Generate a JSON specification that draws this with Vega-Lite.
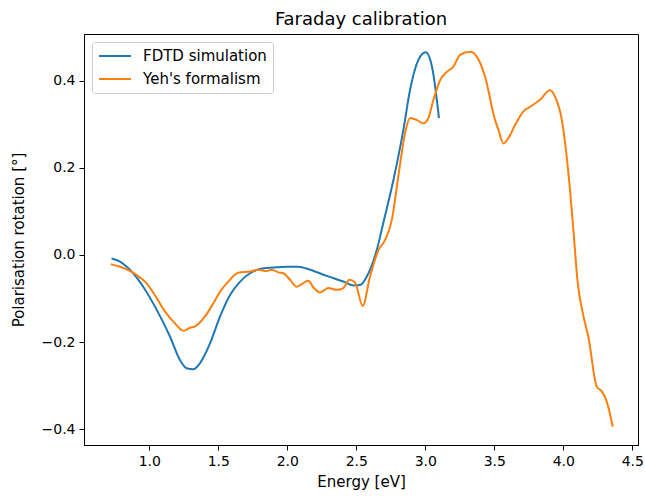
{
  "$schema": "https://vega.github.io/schema/vega-lite/v6.json",
  "autosize": "none",
  "width": 554,
  "height": 411,
  "padding": {"left": 84, "top": 34, "right": 7, "bottom": 55},
  "background": "white",
  "config": {
    "font": "DejaVu Sans",
    "view": {"stroke": "black", "strokeWidth": 1},
    "axis": {"grid": false, "domainColor": "black", "tickColor": "black", "tickSize": 5, "labelColor": "black", "titleColor": "black", "labelFontSize": 14, "titleFontSize": 15, "titleFontWeight": "normal", "labelPadding": 4, "labelFont": "DejaVu Sans", "titleFont": "DejaVu Sans"}
  },
  "title": {"text": "Faraday calibration", "fontSize": 18, "fontWeight": "normal", "font": "DejaVu Sans", "anchor": "middle", "offset": 5, "color": "black"},
  "data": {"values": [
    {"E": 0.727, "v": -0.008, "s": "FDTD simulation"},
    {"E": 0.788, "v": -0.015, "s": "FDTD simulation"},
    {"E": 0.860, "v": -0.034, "s": "FDTD simulation"},
    {"E": 0.956, "v": -0.073, "s": "FDTD simulation"},
    {"E": 1.054, "v": -0.126, "s": "FDTD simulation"},
    {"E": 1.150, "v": -0.187, "s": "FDTD simulation"},
    {"E": 1.222, "v": -0.241, "s": "FDTD simulation"},
    {"E": 1.271, "v": -0.260, "s": "FDTD simulation"},
    {"E": 1.319, "v": -0.262, "s": "FDTD simulation"},
    {"E": 1.368, "v": -0.248, "s": "FDTD simulation"},
    {"E": 1.440, "v": -0.203, "s": "FDTD simulation"},
    {"E": 1.513, "v": -0.141, "s": "FDTD simulation"},
    {"E": 1.585, "v": -0.092, "s": "FDTD simulation"},
    {"E": 1.658, "v": -0.061, "s": "FDTD simulation"},
    {"E": 1.730, "v": -0.042, "s": "FDTD simulation"},
    {"E": 1.802, "v": -0.032, "s": "FDTD simulation"},
    {"E": 1.899, "v": -0.029, "s": "FDTD simulation"},
    {"E": 1.996, "v": -0.027, "s": "FDTD simulation"},
    {"E": 2.079, "v": -0.027, "s": "FDTD simulation"},
    {"E": 2.165, "v": -0.034, "s": "FDTD simulation"},
    {"E": 2.286, "v": -0.048, "s": "FDTD simulation"},
    {"E": 2.406, "v": -0.061, "s": "FDTD simulation"},
    {"E": 2.478, "v": -0.070, "s": "FDTD simulation"},
    {"E": 2.527, "v": -0.069, "s": "FDTD simulation"},
    {"E": 2.575, "v": -0.050, "s": "FDTD simulation"},
    {"E": 2.648, "v": 0.011, "s": "FDTD simulation"},
    {"E": 2.695, "v": 0.073, "s": "FDTD simulation"},
    {"E": 2.769, "v": 0.172, "s": "FDTD simulation"},
    {"E": 2.841, "v": 0.287, "s": "FDTD simulation"},
    {"E": 2.889, "v": 0.378, "s": "FDTD simulation"},
    {"E": 2.949, "v": 0.447, "s": "FDTD simulation"},
    {"E": 3.003, "v": 0.465, "s": "FDTD simulation"},
    {"E": 3.051, "v": 0.428, "s": "FDTD simulation"},
    {"E": 3.099, "v": 0.314, "s": "FDTD simulation"},
    {"E": 0.720, "v": -0.021, "s": "Yeh's formalism"},
    {"E": 0.788, "v": -0.027, "s": "Yeh's formalism"},
    {"E": 0.909, "v": -0.046, "s": "Yeh's formalism"},
    {"E": 0.981, "v": -0.065, "s": "Yeh's formalism"},
    {"E": 1.054, "v": -0.099, "s": "Yeh's formalism"},
    {"E": 1.114, "v": -0.130, "s": "Yeh's formalism"},
    {"E": 1.186, "v": -0.157, "s": "Yeh's formalism"},
    {"E": 1.247, "v": -0.174, "s": "Yeh's formalism"},
    {"E": 1.296, "v": -0.167, "s": "Yeh's formalism"},
    {"E": 1.331, "v": -0.164, "s": "Yeh's formalism"},
    {"E": 1.404, "v": -0.141, "s": "Yeh's formalism"},
    {"E": 1.464, "v": -0.111, "s": "Yeh's formalism"},
    {"E": 1.513, "v": -0.084, "s": "Yeh's formalism"},
    {"E": 1.572, "v": -0.061, "s": "Yeh's formalism"},
    {"E": 1.645, "v": -0.041, "s": "Yeh's formalism"},
    {"E": 1.730, "v": -0.038, "s": "Yeh's formalism"},
    {"E": 1.790, "v": -0.034, "s": "Yeh's formalism"},
    {"E": 1.851, "v": -0.037, "s": "Yeh's formalism"},
    {"E": 1.887, "v": -0.034, "s": "Yeh's formalism"},
    {"E": 1.935, "v": -0.040, "s": "Yeh's formalism"},
    {"E": 1.971, "v": -0.042, "s": "Yeh's formalism"},
    {"E": 2.020, "v": -0.057, "s": "Yeh's formalism"},
    {"E": 2.068, "v": -0.073, "s": "Yeh's formalism"},
    {"E": 2.104, "v": -0.067, "s": "Yeh's formalism"},
    {"E": 2.153, "v": -0.059, "s": "Yeh's formalism"},
    {"E": 2.188, "v": -0.074, "s": "Yeh's formalism"},
    {"E": 2.237, "v": -0.086, "s": "Yeh's formalism"},
    {"E": 2.298, "v": -0.076, "s": "Yeh's formalism"},
    {"E": 2.358, "v": -0.080, "s": "Yeh's formalism"},
    {"E": 2.406, "v": -0.076, "s": "Yeh's formalism"},
    {"E": 2.449, "v": -0.057, "s": "Yeh's formalism"},
    {"E": 2.491, "v": -0.063, "s": "Yeh's formalism"},
    {"E": 2.546, "v": -0.117, "s": "Yeh's formalism"},
    {"E": 2.599, "v": -0.050, "s": "Yeh's formalism"},
    {"E": 2.660, "v": 0.011, "s": "Yeh's formalism"},
    {"E": 2.708, "v": 0.034, "s": "Yeh's formalism"},
    {"E": 2.757, "v": 0.080, "s": "Yeh's formalism"},
    {"E": 2.804, "v": 0.180, "s": "Yeh's formalism"},
    {"E": 2.853, "v": 0.279, "s": "Yeh's formalism"},
    {"E": 2.889, "v": 0.314, "s": "Yeh's formalism"},
    {"E": 2.937, "v": 0.310, "s": "Yeh's formalism"},
    {"E": 2.986, "v": 0.302, "s": "Yeh's formalism"},
    {"E": 3.022, "v": 0.314, "s": "Yeh's formalism"},
    {"E": 3.058, "v": 0.355, "s": "Yeh's formalism"},
    {"E": 3.107, "v": 0.401, "s": "Yeh's formalism"},
    {"E": 3.156, "v": 0.420, "s": "Yeh's formalism"},
    {"E": 3.203, "v": 0.432, "s": "Yeh's formalism"},
    {"E": 3.252, "v": 0.459, "s": "Yeh's formalism"},
    {"E": 3.324, "v": 0.466, "s": "Yeh's formalism"},
    {"E": 3.373, "v": 0.455, "s": "Yeh's formalism"},
    {"E": 3.433, "v": 0.409, "s": "Yeh's formalism"},
    {"E": 3.505, "v": 0.310, "s": "Yeh's formalism"},
    {"E": 3.530, "v": 0.287, "s": "Yeh's formalism"},
    {"E": 3.565, "v": 0.256, "s": "Yeh's formalism"},
    {"E": 3.602, "v": 0.268, "s": "Yeh's formalism"},
    {"E": 3.650, "v": 0.298, "s": "Yeh's formalism"},
    {"E": 3.710, "v": 0.329, "s": "Yeh's formalism"},
    {"E": 3.759, "v": 0.340, "s": "Yeh's formalism"},
    {"E": 3.831, "v": 0.356, "s": "Yeh's formalism"},
    {"E": 3.904, "v": 0.378, "s": "Yeh's formalism"},
    {"E": 3.940, "v": 0.363, "s": "Yeh's formalism"},
    {"E": 3.989, "v": 0.310, "s": "Yeh's formalism"},
    {"E": 4.037, "v": 0.187, "s": "Yeh's formalism"},
    {"E": 4.073, "v": 0.057, "s": "Yeh's formalism"},
    {"E": 4.102, "v": -0.057, "s": "Yeh's formalism"},
    {"E": 4.146, "v": -0.141, "s": "Yeh's formalism"},
    {"E": 4.181, "v": -0.187, "s": "Yeh's formalism"},
    {"E": 4.242, "v": -0.302, "s": "Yeh's formalism"},
    {"E": 4.279, "v": -0.313, "s": "Yeh's formalism"},
    {"E": 4.314, "v": -0.336, "s": "Yeh's formalism"},
    {"E": 4.358, "v": -0.394, "s": "Yeh's formalism"}
  ]},
  "mark": {"type": "line", "strokeWidth": 2, "interpolate": "monotone", "clip": true},
  "encoding": {
    "x": {"field": "E", "type": "quantitative", "title": "Energy [eV]",
      "scale": {"domain": [0.527, 4.541], "nice": false, "zero": false},
      "axis": {"values": [1, 1.5, 2, 2.5, 3, 3.5, 4, 4.5], "format": ".1f", "titlePadding": 6}},
    "y": {"field": "v", "type": "quantitative", "title": "Polarisation rotation [°]",
      "scale": {"domain": [-0.436, 0.507], "nice": false, "zero": false},
      "axis": {"values": [-0.4, -0.2, 0, 0.2, 0.4], "labelExpr": "replace(format(datum.value, '.1f'), '-', '−')", "titlePadding": 15}},
    "color": {"field": "s", "type": "nominal", "title": null,
      "scale": {"domain": ["FDTD simulation", "Yeh's formalism"], "range": ["#1f77b4", "#ff7f0e"]},
      "legend": {"orient": "none", "legendX": 8, "legendY": 8, "symbolType": "stroke", "symbolSize": 1024, "symbolStrokeWidth": 2, "clipHeight": 16, "labelFontSize": 15, "labelFont": "DejaVu Sans", "labelColor": "black", "labelOffset": 11, "padding": 6, "rowPadding": 7, "strokeColor": "#cccccc", "fillColor": "white", "cornerRadius": 3}}
  }
}
